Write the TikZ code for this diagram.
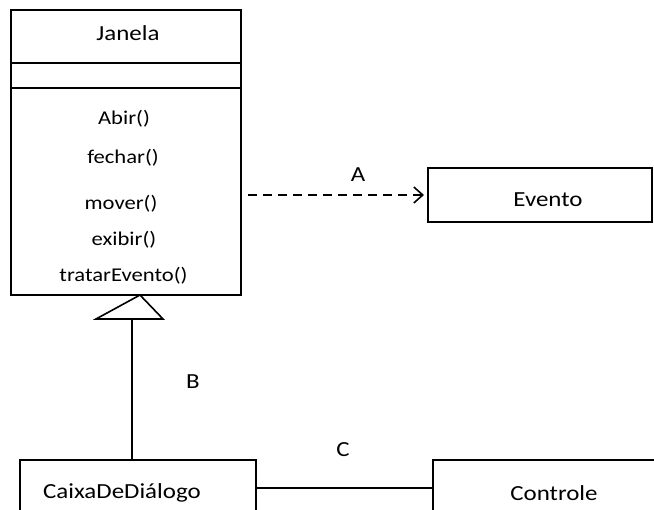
\documentclass[tikz,border=0pt]{standalone}
\usepackage{fontspec}
\setmainfont{Carlito}
\usepackage{graphicx}
\usetikzlibrary{arrows.meta,calc}
\newcommand{\wt}[1]{\scalebox{1.16}[1]{#1}}
\begin{document}
\begin{tikzpicture}[x=1pt,y=-1pt,line width=1.6pt,
  box/.style={draw,rectangle,inner sep=0pt,outer sep=0pt,anchor=north west},
  big/.style={inner sep=0pt,font=\fontsize{21.5}{24}\selectfont},
  meth/.style={inner sep=0pt,font=\fontsize{19.5}{22}\selectfont},
  dep/.style={dash pattern=on 9pt off 6pt,-{Straight Barb[length=9pt,width=16pt]},shorten >=4pt}]
\clip (0,0) rectangle (654,510);
\fill[white] (0,0) rectangle (654,510);
% boxes
\node[box,minimum width=230pt,minimum height=285pt] (jan) at (11,10) {};
\node[box,minimum width=224pt,minimum height=54pt] (ev) at (428,168) {};
\node[box,minimum width=236pt,minimum height=60pt] (cx) at (20,460) {};
\node[box,minimum width=230pt,minimum height=60pt] (ct) at (433,460) {};
% compartments
\draw ($(jan.north west)+(0,53)$) -- ($(jan.north east)+(0,53)$);
\draw ($(jan.north west)+(0,78)$) -- ($(jan.north east)+(0,78)$);
% texts
\node[big] (tJ) at (128,33) {\wt{Janela}};
\node[meth] (m1) at (124,119) {\wt{Abir()}};
\node[meth] (m2) at (123,158) {\wt{fechar()}};
\node[meth] (m3) at (121,204) {\wt{mover()}};
\node[meth] (m4) at (124,240) {\wt{exibir()}};
\node[meth] (m5) at (123.5,276) {\wt{tratarEvento()}};
\node[big] (tE) at (548,200) {\wt{Evento}};
\node[big] (tC) at (122,493) {\wt{CaixaDeDiálogo}};
\node[big] (tK) at (554,493) {\wt{Controle}};
\node[big] (lA) at (358,175) {\wt{A}};
\node[big] (lB) at (193,382) {\wt{B}};
\node[big] (lC) at (343,450) {\wt{C}};
% dependency A
\coordinate (ds) at (248,195);
\draw[dep] (ds) -- (ev.west);
% generalization B
\coordinate (tb) at (132,319);
\coordinate (tap) at (140,295);
\draw (tb |- cx.north) -- (tb);
\draw[line join=miter] (96,319) -- (tap) -- (163,319) -- cycle;
% association C
\draw ([yshift=2pt]cx.east) -- ([yshift=2pt]ct.west);
\end{tikzpicture}
\end{document}
